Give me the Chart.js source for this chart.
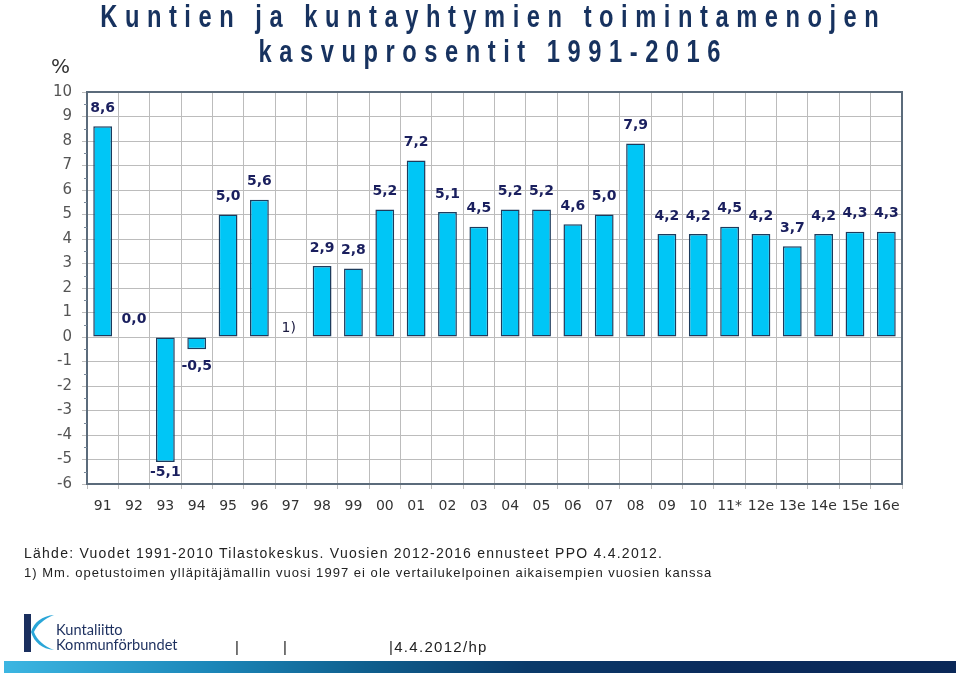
<!DOCTYPE html>
<html>
<head>
<meta charset="utf-8">
<script src="https://cdn.jsdelivr.net/npm/chart.js@4.4.1/dist/chart.umd.min.js"></script>
<style>
  html, body { margin:0; padding:0; background:#fff; }
  #wrap { position:relative; width:960px; height:676px; overflow:hidden; background:#fff; }
  #c { position:absolute; left:0; top:0; }
  .t { position:absolute; white-space:nowrap; }
  .title { font-family:"Liberation Sans",Arial,sans-serif; font-weight:bold; font-size:32px; color:#17325f; letter-spacing:10.2px; left:-208px; width:1400px; text-align:center; transform:scaleX(0.74); transform-origin:705px 0; }
  .foot { font-family:"Liberation Sans",Arial,sans-serif; color:#222; }
</style>
</head>
<body>
<div id="wrap">
  <canvas id="c" width="960" height="676"></canvas>
  <div class="t title" style="top:-2px;">Kuntien ja kuntayhtymien toimintamenojen</div>
  <div class="t title" style="top:33px;">kasvuprosentit 1991-2016</div>
  <div class="t" style="left:51px; top:54px; font-family:'DejaVu Sans',sans-serif; font-size:20px; color:#333;">%</div>
  <div class="t foot" style="left:24px; top:545px; font-size:14px; letter-spacing:1.25px;">Lähde: Vuodet 1991-2010 Tilastokeskus. Vuosien 2012-2016 ennusteet PPO 4.4.2012.</div>
  <div class="t foot" style="left:24px; top:565px; font-size:13px; letter-spacing:1.03px;">1) Mm. opetustoimen ylläpitäjämallin vuosi 1997 ei ole vertailukelpoinen aikaisempien vuosien kanssa</div>
  <svg class="t" style="left:20px; top:610px;" width="40" height="46" viewBox="0 0 40 46">
    <rect x="4" y="4" width="7" height="38" fill="#1a2f5e"/>
    <path d="M11 22 C 14 12, 22 6, 34 5 C 24 9, 17 15, 14 22 C 17 30, 24 36, 34 40 C 22 39, 14 32, 11 22 Z" fill="#2aa6d8"/>
  </svg>
  <div class="t" style="left:56px; top:622px; font-family:Lato,'Open Sans',sans-serif; font-size:14.6px; color:#1c2f5e; line-height:15px;">Kuntaliitto<br>Kommunförbundet</div>
  <div class="t foot" style="left:235px; top:638px; font-size:15px;">|</div>
  <div class="t foot" style="left:283px; top:638px; font-size:15px;">|</div>
  <div class="t foot" style="left:389px; top:638px; font-size:15px; letter-spacing:1.3px;">|4.4.2012/hp</div>
  <div class="t" style="left:4px; top:661px; width:952px; height:12px; background:linear-gradient(90deg,#3cb6e2 0%,#1b86b8 22%,#0f5f8e 38%,#0a3a6a 55%,#0a2b5c 75%,#0a2858 100%);"></div>
</div>
<script>
const categories = ["91","92","93","94","95","96","97","98","99","00","01","02","03","04","05","06","07","08","09","10","11*","12e","13e","14e","15e","16e"];
const growthValues = [8.6,0.0,-5.1,-0.5,5.0,5.6,null,2.9,2.8,5.2,7.2,5.1,4.5,5.2,5.2,4.6,5.0,7.9,4.2,4.2,4.5,4.2,3.7,4.2,4.3,4.3];
const categoryNotes = {"97":"1)"};
const yTicks = [10,9,8,7,6,5,4,3,2,1,0,-1,-2,-3,-4,-5,-6];

const fmt = v => v.toFixed(1).replace('.', ',');

const labelPlugin = {
  id: 'barLabels',
  afterDatasetsDraw(chart) {
    const ctx = chart.ctx;
    const meta = chart.getDatasetMeta(0);
    const yScale = chart.scales.y;
    ctx.save();
    ctx.textAlign = 'center';
    ctx.textBaseline = 'middle';
    meta.data.forEach((bar, i) => {
      const v = growthValues[i];
      if (v === null || v === undefined) {
        const note = categoryNotes[categories[i]];
        if (note) {
          ctx.font = '14px "DejaVu Sans", sans-serif';
          ctx.fillStyle = '#1a1a40';
          ctx.fillText(note, chart.scales.x.getPixelForValue(i) - 2, yScale.getPixelForValue(0) - 9);
        }
        return;
      }
      ctx.font = 'bold 14px "DejaVu Sans", sans-serif';
      ctx.fillStyle = '#1a1f5e';
      let y;
      if (v >= 0) y = bar.y - 18;
      else y = bar.y + (v < -2 ? 10 : 17);
      ctx.fillText(fmt(v), bar.x, y);
    });
    ctx.restore();
  }
};

const framePlugin = {
  id: 'frame',
  afterDraw(chart) {
    const a = chart.chartArea, ctx = chart.ctx;
    ctx.save();
    ctx.strokeStyle = '#5b6b7b';
    ctx.lineWidth = 2;
    ctx.beginPath();
    ctx.moveTo(a.left, a.top); ctx.lineTo(a.right, a.top); ctx.lineTo(a.right, a.bottom);
    ctx.stroke();
    ctx.strokeStyle = '#7a8a9a';
    ctx.lineWidth = 1;
    const ys = chart.scales.y;
    for (let k = 0; k < yTicks.length - 1; k++) {
      const mid = (yTicks[k] + yTicks[k+1]) / 2;
      const py = Math.round(ys.getPixelForValue(mid)) + 0.5;
      ctx.beginPath(); ctx.moveTo(a.left - 3, py); ctx.lineTo(a.left, py); ctx.stroke();
    }
    ctx.restore();
  }
};

new Chart(document.getElementById('c'), {
  type: 'bar',
  data: {
    labels: categories,
    datasets: [{
      data: growthValues,
      backgroundColor: '#00c6f6',
      borderColor: '#1d3b5c',
      borderWidth: 1.5,
      borderSkipped: false,
      categoryPercentage: 1.0,
      barPercentage: 0.6
    }]
  },
  options: {
    responsive: false,
    animation: false,
    layout: { padding: { top: 92, right: 58, bottom: 152, left: 0 } },
    plugins: { legend: { display: false }, tooltip: { enabled: false }, title: { display: false } },
    scales: {
      x: {
        grid: { color: '#bcbcbc', lineWidth: 1, offset: true, tickLength: 5, drawTicks: true },
        border: { color: '#5b6b7b', width: 2 },
        ticks: { color: '#333', font: { family: '"DejaVu Sans", sans-serif', size: 14 }, padding: 9, maxRotation: 0, autoSkip: false },
        afterFit(s) { s.height = 40; }
      },
      y: {
        min: -6, max: 10,
        afterBuildTicks(s) { s.ticks = yTicks.map(v => ({ value: v })); },
        grid: { color: '#bcbcbc', lineWidth: 1, tickLength: 5 },
        border: { color: '#5b6b7b', width: 2 },
        ticks: { color: '#555', font: { family: '"DejaVu Sans", sans-serif', size: 15 }, padding: 10, callback: v => String(v) },
        afterFit(s) { s.width = 87; }
      }
    }
  },
  plugins: [labelPlugin, framePlugin]
});
</script>
</body>
</html>
